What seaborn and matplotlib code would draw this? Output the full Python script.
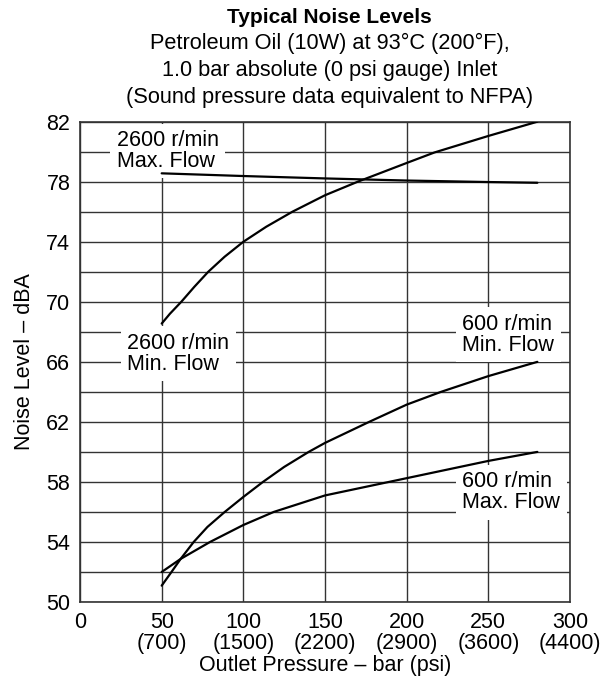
import seaborn as sns
import pandas as pd
import numpy as np
import matplotlib.pyplot as plt

# values (bar, dBA)
x_2600_max = [50, 100, 150, 200, 250, 280]
y_2600_max = [78.56, 78.38, 78.22, 78.08, 77.98, 77.93]

x_2600_min = [50, 55, 62, 70, 78.5, 88.5, 100, 114, 130, 150, 170, 200, 217, 235, 250, 280]
y_2600_min = [68.55, 69.2, 70.0, 71.0, 72.0, 73.0, 74.0, 75.0, 76.0, 77.1, 78.0, 79.25, 79.95, 80.55, 81.05, 82.0]

x_600_min = [50, 56, 61.6, 69.6, 78, 88.6, 100, 112, 125, 140, 150, 177, 200, 221, 250, 280]
y_600_min = [51.09, 52.0, 52.87, 54.0, 55.0, 56.0, 57.0, 58.0, 59.0, 60.0, 60.6, 62.0, 63.15, 64.0, 65.05, 66.0]

x_600_max = [50, 61.6, 79.6, 100, 118.6, 150, 200, 250, 280]
y_600_max = [52.0, 52.87, 54.0, 55.13, 56.0, 57.1, 58.25, 59.4, 60.0]

xtick_vals = [0, 50, 100, 150, 200, 250, 300]
xtick_labels = ["0", "50\n(700)", "100\n(1500)", "150\n(2200)", "200\n(2900)", "250\n(3600)", "300\n(4400)"]
ytick_vals = [50, 54, 58, 62, 66, 70, 74, 78, 82]

curves = {
    "2600 max": (x_2600_max, y_2600_max),
    "2600 min": (x_2600_min, y_2600_min),
    "600 min": (x_600_min, y_600_min),
    "600 max": (x_600_max, y_600_max),
}
rows = []
for name, (xs, ys) in curves.items():
    for a, b in zip(xs, ys):
        rows.append({"curve": name, "pressure": a, "noise": b})
df = pd.DataFrame(rows)

sns.set_style("white")
plt.rcParams["font.family"] = ["Liberation Sans", "DejaVu Sans"]
plt.rcParams["text.color"] = "black"
plt.rcParams["axes.labelcolor"] = "black"

fig = plt.figure(figsize=(6.03, 6.81), dpi=100)
ax = fig.add_axes([0.1327, 0.116, 0.8126, 0.7053])

sns.lineplot(data=df, x="pressure", y="noise", units="curve", estimator=None,
             color="black", lw=1.6, sort=False, ax=ax, zorder=5)

ax.set_xlim(0, 300)
ax.set_ylim(50, 82)
ax.set_xticks(xtick_vals)
ax.set_xticklabels(xtick_labels)
ax.set_yticks(ytick_vals)
ax.set_yticks(np.arange(52, 82, 4), minor=True)
for lbl in ax.get_xticklabels():
    lbl.set_linespacing(1.0)
ax.tick_params(axis="both", which="both", length=0, labelsize=15.5, colors="black")
ax.tick_params(axis="x", pad=7)
ax.tick_params(axis="y", pad=7)

ax.set_axisbelow(True)
ax.grid(True, which="both", axis="y", color="#333333", lw=1.0)
ax.grid(True, which="major", axis="x", color="#333333", lw=1.0)
for s in ax.spines.values():
    s.set_color("#333333")
    s.set_linewidth(1.2)

ax.set_xlabel("Outlet Pressure – bar (psi)", fontsize=15.5, labelpad=1, color="black")
ax.set_ylabel("Noise Level – dBA", fontsize=15.5, labelpad=8, color="black")

box = dict(facecolor="white", edgecolor="none", boxstyle="square,pad=0.3")
ax.text(22.5, 80.05, "2600 r/min\nMax. Flow", fontsize=15.5, va="center", ha="left",
        linespacing=1.0, bbox=box, zorder=3, color="black")
ax.text(29, 66.55, "2600 r/min\nMin. Flow", fontsize=15.5, va="center", ha="left",
        linespacing=1.0, bbox=box, zorder=3, color="black")
ax.text(234, 67.8, "600 r/min\nMin. Flow", fontsize=15.5, va="center", ha="left",
        linespacing=1.0, bbox=box, zorder=3, color="black")
ax.text(234, 57.3, "600 r/min\nMax. Flow", fontsize=15.5, va="center", ha="left",
        linespacing=1.0, bbox=box, zorder=3, color="black")

# title block
fig.text(0.547, 0.975, "Typical Noise Levels", ha="center", va="center",
         fontsize=15, fontweight="bold", color="black")
fig.text(0.547, 0.936, "Petroleum Oil (10W) at 93°C (200°F),", ha="center", va="center", fontsize=15.7, color="black")
fig.text(0.547, 0.896, "1.0 bar absolute (0 psi gauge) Inlet", ha="center", va="center", fontsize=15.7, color="black")
fig.text(0.547, 0.857, "(Sound pressure data equivalent to NFPA)", ha="center", va="center", fontsize=15.7, color="black")

fig.savefig("out.png", dpi=100)
